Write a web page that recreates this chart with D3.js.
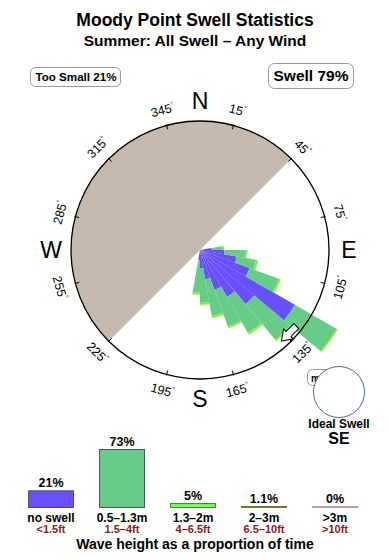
<!DOCTYPE html>
<html>
<head>
<meta charset="utf-8">
<script src="https://cdn.jsdelivr.net/npm/d3@7"></script>
<style>
  body { margin: 0; background: #fff; }
  svg { font-family: "Liberation Sans", Arial, sans-serif; display: block; }
</style>
</head>
<body>
<div id="chart"></div>
<script>
const title = "Moody Point Swell Statistics";
const subtitle = "Summer: All Swell \u2013 Any Wind";
const tooSmallPct = 21;
const swellPct = 79;

// 10 degree direction sectors (start angle, degrees clockwise from north)
const binStarts  = [80, 90, 100, 110, 120, 130, 140, 150, 160, 170, 180];
// stacked frequencies per sector, radius 10 = outer circle
const noSwell    = [0.9, 1.9, 2.9, 4.1, 8.5, 5.5, 4.2, 3.3, 2.3, 1.4, 0.8];
const swellSmall = [0.8, 1.6, 1.5, 2.4, 3.7, 3.6, 3.2, 3.0, 2.9, 2.7, 2.5];
const swellMid   = [0.15, 0.15, 0.15, 0.15, 0.1, 0.1, 0.15, 0.15, 0.15, 0.15, 0.15];
const swellBig   = [0.05, 0.05, 0.05, 0.05, 0.05, 0.05, 0.05, 0.05, 0.05, 0.05, 0.05];

const degTicks = [15, 45, 75, 105, 135, 165, 195, 225, 255, 285, 315, 345];
const compassNames = ["N", "E", "S", "W"];
const compassAngles = [0, 90, 180, 270];
const shadowFrom = 225, shadowTo = 405;   // sheltered sector
const idealName = "SE";
const idealAngle = 135;

const heightCats  = ["no swell", "0.5\u20131.3m", "1.3\u20132m", "2\u20133m", ">3m"];
const heightFeet  = ["<1.5ft", "1.5\u20134ft", "4\u20136.5ft", "6.5\u201310ft", ">10ft"];
const heightPct   = [21, 73, 5, 1.1, 0];
const heightLabel = ["21%", "73%", "5%", "1.1%", "0%"];

const layerKeys   = ["none", "small", "mid", "big"];
const layerColors = ["#6650ff", "#66cc88", "#77ee55", "#dde833"];
const legendStroke = ["#555", "#555", "#448833", "#667733", "#b8a0a0"];
const legendFill   = ["#6650ff", "#66cc88", "#77ff55", "#ccdd44", "#ecd0d0"];

class SwellRose {
  constructor (options) {
    Object.assign(this, SwellRose.DEFAULTS, options);
  }

  draw () {
    this.svg = d3.select(this.el).append("svg")
      .attr("width", this.width)
      .attr("height", this.height);

    this.rad = (deg) => deg * Math.PI / 180;
    this.r = d3.scaleLinear().domain([0, 10]).range([0, this.R]);

    this.drawTitles();
    this.drawRose();
    this.drawIdeal();
    this.drawLegend();
  }

  drawTitles () {
    const svg = this.svg;
    svg.append("text").attr("x", 195).attr("y", 26)
      .attr("text-anchor", "middle").attr("font-weight", "bold")
      .attr("font-size", 17.5).text(title);
    svg.append("text").attr("x", 195).attr("y", 46)
      .attr("text-anchor", "middle").attr("font-weight", "bold")
      .attr("font-size", 15.5).text(subtitle);

    svg.append("rect").attr("x", 30.5).attr("y", 67.5)
      .attr("width", 90).attr("height", 19).attr("rx", 5)
      .attr("fill", "#fff").attr("stroke", "#999");
    svg.append("text").attr("x", 76).attr("y", 81)
      .attr("text-anchor", "middle").attr("font-weight", "bold")
      .attr("font-size", 11.6).text("Too Small " + tooSmallPct + "%");

    svg.append("rect").attr("x", 268.5).attr("y", 63.5)
      .attr("width", 85).attr("height", 25).attr("rx", 6)
      .attr("fill", "#fff").attr("stroke", "#999");
    svg.append("text").attr("x", 311).attr("y", 81)
      .attr("text-anchor", "middle").attr("font-weight", "bold")
      .attr("font-size", 15.5).text("Swell " + swellPct + "%");
  }

  drawRose () {
    const R = this.R, r = this.r, rad = this.rad;
    const g = this.svg.append("g")
      .attr("transform", "translate(" + this.cx + "," + this.cy + ")");

    g.append("path")
      .attr("d", d3.arc().innerRadius(0).outerRadius(R)
        .startAngle(rad(shadowFrom)).endAngle(rad(shadowTo))())
      .attr("fill", "#c5b9ad");

    const rows = binStarts.map((b, i) => ({
      dir: b, none: noSwell[i], small: swellSmall[i], mid: swellMid[i], big: swellBig[i]
    }));
    const layers = d3.stack().keys(layerKeys)(rows);

    const arc = d3.arc()
      .innerRadius(d => r(d[0]))
      .outerRadius(d => r(d[1]))
      .startAngle(d => rad(d.data.dir))
      .endAngle(d => rad(d.data.dir + 10));

    g.selectAll("g.layer")
      .data(layers)
      .enter().append("g")
      .attr("class", "layer")
      .attr("fill", (d, i) => layerColors[i])
      .selectAll("path")
      .data(d => d)
      .enter().append("path")
      .attr("d", arc);

    g.append("circle").attr("r", R)
      .attr("fill", "none").attr("stroke", "#000").attr("stroke-width", 1.3);

    g.selectAll("line.tick")
      .data(degTicks)
      .enter().append("line")
      .attr("class", "tick")
      .attr("x1", d => (R - 4) * Math.sin(rad(d)))
      .attr("y1", d => -(R - 4) * Math.cos(rad(d)))
      .attr("x2", d => (R + 1) * Math.sin(rad(d)))
      .attr("y2", d => -(R + 1) * Math.cos(rad(d)))
      .attr("stroke", "#000");

    const labels = g.selectAll("text.deg")
      .data(degTicks)
      .enter().append("text")
      .attr("class", "deg")
      .attr("font-size", 12.5)
      .attr("text-anchor", "middle")
      .attr("transform", d => {
        const x = 145 * Math.sin(rad(d)), y = -145 * Math.cos(rad(d));
        const rot = (d > 90 && d < 270) ? d - 180 : d;
        return "translate(" + x + "," + y + ") rotate(" + rot + ")";
      });
    labels.append("tspan").attr("y", 4.5).text(d => d);
    labels.append("tspan").attr("font-size", 7).attr("dy", -5.5).text("\u00b0");

    g.selectAll("text.compass")
      .data(compassNames)
      .enter().append("text")
      .attr("class", "compass")
      .attr("font-size", 23)
      .attr("text-anchor", "middle")
      .attr("x", (d, i) => 149 * Math.sin(rad(compassAngles[i])))
      .attr("y", (d, i) => -149 * Math.cos(rad(compassAngles[i])) + 8.2)
      .text(d => d);

    // ideal swell direction marker
    const p = [122 * Math.sin(rad(idealAngle - 2)), -122 * Math.cos(rad(idealAngle - 2))];
    g.append("path")
      .attr("transform", "translate(" + p[0] + "," + p[1] + ") rotate(" + idealAngle + ")")
      .attr("d", "M11,0L1,-7L1,-3.5L-10,-3.5L-10,3.5L1,3.5L1,7Z")
      .attr("fill", "#fff").attr("stroke", "#000").attr("stroke-width", 1);
  }

  drawIdeal () {
    const svg = this.svg;
    svg.append("rect").attr("x", 307.5).attr("y", 369.5)
      .attr("width", 30).attr("height", 16).attr("rx", 5)
      .attr("fill", "#fff").attr("stroke", "#999");
    svg.append("text").attr("x", 311).attr("y", 381.5)
      .attr("font-size", 10).attr("font-weight", "bold").text("m");
    svg.append("circle").attr("cx", 339).attr("cy", 392).attr("r", 25.5)
      .attr("fill", "#fff").attr("stroke", "#4a6a9a").attr("stroke-width", 1);
    svg.append("text").attr("x", 339).attr("y", 428)
      .attr("text-anchor", "middle").attr("font-weight", "bold")
      .attr("font-size", 12).text("Ideal Swell");
    svg.append("text").attr("x", 339).attr("y", 444)
      .attr("text-anchor", "middle").attr("font-weight", "bold")
      .attr("font-size", 16).text(idealName);
  }

  drawLegend () {
    const svg = this.svg, base = 507.5;
    const x = d3.scaleBand().domain(heightCats).range([28, 357]).paddingInner(0.366);
    const h = d3.scaleLinear().domain([0, 73]).range([0, 58]);
    const mid = (d) => x(d) + x.bandwidth() / 2 + 0.5;
    const barH = (i) => Math.max(h(heightPct[i]), 1);

    svg.selectAll("rect.bar")
      .data(heightCats)
      .enter().append("rect")
      .attr("class", "bar")
      .attr("x", d => x(d) + 0.5)
      .attr("width", x.bandwidth())
      .attr("y", (d, i) => base - barH(i))
      .attr("height", (d, i) => barH(i))
      .attr("fill", (d, i) => legendFill[i])
      .attr("stroke", (d, i) => legendStroke[i]);

    svg.selectAll("text.pct")
      .data(heightCats)
      .enter().append("text")
      .attr("class", "pct")
      .attr("x", mid)
      .attr("y", (d, i) => base - barH(i) - 4)
      .attr("text-anchor", "middle")
      .attr("font-size", 12.5)
      .attr("font-weight", "bold")
      .text((d, i) => heightLabel[i]);

    svg.selectAll("text.cat")
      .data(heightCats)
      .enter().append("text")
      .attr("class", "cat")
      .attr("x", mid)
      .attr("y", 521.5)
      .attr("text-anchor", "middle")
      .attr("font-size", 12)
      .attr("font-weight", "bold")
      .text(d => d);

    svg.selectAll("text.feet")
      .data(heightFeet)
      .enter().append("text")
      .attr("class", "feet")
      .attr("x", (d, i) => mid(heightCats[i]))
      .attr("y", 533)
      .attr("text-anchor", "middle")
      .attr("font-size", 11)
      .attr("font-weight", "bold")
      .attr("fill", "#8b1a1a")
      .text(d => d);

    svg.append("text").attr("x", 195).attr("y", 548.5)
      .attr("text-anchor", "middle").attr("font-weight", "bold")
      .attr("font-size", 14).text("Wave height as a proportion of time");
  }
}

SwellRose.DEFAULTS = {
  width: 390,
  height: 560,
  cx: 200,
  cy: 250,
  R: 129
};

new SwellRose({el: "#chart"}).draw();
</script>
</body>
</html>
